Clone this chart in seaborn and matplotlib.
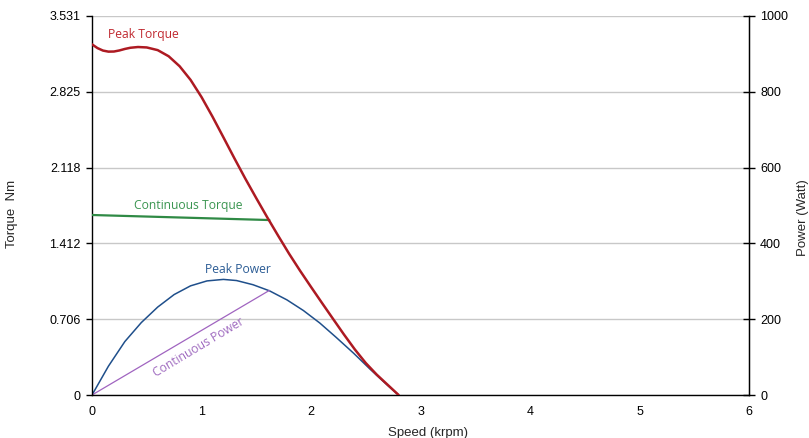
import matplotlib
matplotlib.use("Agg")
import matplotlib.pyplot as plt
import seaborn as sns
import pandas as pd

# ---- data ----
peak_torque_speed = [0, 0.05, 0.1, 0.15, 0.2, 0.25, 0.3, 0.35, 0.42, 0.5, 0.6, 0.7, 0.8, 0.9,
                     1.0, 1.1, 1.2, 1.3, 1.4, 1.5, 1.6, 1.7, 1.8, 1.9, 2.0, 2.1, 2.2, 2.3,
                     2.4, 2.5, 2.6, 2.7, 2.8]
peak_torque = [3.267, 3.232, 3.209, 3.199, 3.200, 3.210, 3.224, 3.235, 3.242, 3.238, 3.213,
               3.156, 3.063, 2.936, 2.776, 2.594, 2.401, 2.206, 2.016, 1.834, 1.656, 1.484,
               1.316, 1.158, 1.007, 0.858, 0.711, 0.565, 0.425, 0.298, 0.19, 0.095, 0.0]

cont_torque_speed = [0, 1.62]
cont_torque = [1.677, 1.630]

peak_power_speed = [0, 0.15, 0.30, 0.45, 0.60, 0.75, 0.90, 1.05, 1.20, 1.32, 1.47, 1.62,
                    1.78, 1.93, 2.08, 2.23, 2.39, 2.54, 2.69, 2.80]
peak_power = [0, 76, 141, 191, 232, 265, 288, 301, 305, 302, 291, 275,
              251, 223, 190, 152, 110, 68, 28, 0]

cont_power_speed = [0, 1.62]
cont_power = [0, 276]

torque_ticks = [0, 0.706, 1.412, 2.118, 2.825, 3.531]
torque_tick_labels = ["0", "0.706", "1.412", "2.118", "2.825", "3.531"]
power_ticks = [0, 200, 400, 600, 800, 1000]
speed_ticks = [0, 1, 2, 3, 4, 5, 6]

sns.set_style("white")
plt.rcParams["font.family"] = ["Liberation Sans", "DejaVu Sans"]
plt.rcParams["lines.solid_joinstyle"] = "round"

fig = plt.figure(figsize=(8.09, 4.38), dpi=100)
ax = fig.add_axes([92 / 809, 1 - 395 / 438, (749 - 92) / 809, (395 - 16) / 438])
ax2 = ax.twinx()

RED, GREEN, BLUE, PURPLE = "#ad1a22", "#2f8a45", "#1f4f8b", "#a064c0"

df_pt = pd.DataFrame({"speed": peak_torque_speed, "val": peak_torque})
df_ct = pd.DataFrame({"speed": cont_torque_speed, "val": cont_torque})
df_pp = pd.DataFrame({"speed": peak_power_speed, "val": peak_power})
df_cp = pd.DataFrame({"speed": cont_power_speed, "val": cont_power})

sns.lineplot(data=df_pp, x="speed", y="val", ax=ax2, color=BLUE, lw=1.1, sort=False)
sns.lineplot(data=df_cp, x="speed", y="val", ax=ax2, color=PURPLE, lw=0.9, sort=False)
sns.lineplot(data=df_ct, x="speed", y="val", ax=ax, color=GREEN, lw=1.6, sort=False, zorder=3)
sns.lineplot(data=df_pt, x="speed", y="val", ax=ax, color=RED, lw=1.8, sort=False, zorder=4)

ax.set_zorder(ax2.get_zorder() + 1)
ax.patch.set_visible(False)

ax.set_xlim(0, 6)
ax.set_ylim(0, 3.531)
ax2.set_ylim(0, 1000)
ax.set_xticks(speed_ticks)
ax.set_yticks(torque_ticks)
ax.set_yticklabels(torque_tick_labels)
ax2.set_yticks(power_ticks)

for t in torque_ticks:
    ax2.axhline(t / 3.531 * 1000, color="#c8c8c8", lw=1.0, zorder=0)

for s in ["left", "bottom", "right"]:
    ax.spines[s].set_color("black")
    ax.spines[s].set_linewidth(1.0)
    ax2.spines[s].set_color("black")
ax.spines["top"].set_visible(False)
ax2.spines["top"].set_visible(False)
ax2.spines["left"].set_visible(False)
ax2.spines["bottom"].set_visible(False)

ax.tick_params(axis="y", direction="out", length=4, width=1, pad=4, labelsize=9, colors="black")
ax.tick_params(axis="x", direction="inout", length=6, width=1, pad=5, labelsize=9, colors="black")
ax2.tick_params(axis="y", direction="inout", length=8, width=1, pad=4, labelsize=9, colors="black")

ax.set_xlabel("Speed (krpm)", fontsize=9.5)
ax.set_ylabel("Torque  Nm", fontsize=9.5)
ax2.set_ylabel("Power (Watt)", fontsize=9.5)
ax.xaxis.set_label_coords(0.511, -0.085)
ax.yaxis.set_label_coords(-0.112, 0.477)
ax2.yaxis.set_label_coords(1.073, 0.467)

lab_font = ["Open Sans", "DejaVu Sans"]
ax.text(0.146, 3.354, "Peak Torque", color="#c0282f", fontsize=8.7, family=lab_font, va="center", ha="left")
ax.text(0.384, 1.761, "Continuous Torque", color="#3a9550", fontsize=8.7, family=lab_font, va="center", ha="left")
ax.text(1.03, 1.165, "Peak Power", color="#2b5c95", fontsize=8.7, family=lab_font, va="center", ha="left")
ax.text(0.97, 0.44, "Continuous Power", color="#a06cc0", fontsize=8.7, family=lab_font, va="center",
        ha="center", rotation=31, rotation_mode="anchor")

fig.savefig("out.png", dpi=100)
